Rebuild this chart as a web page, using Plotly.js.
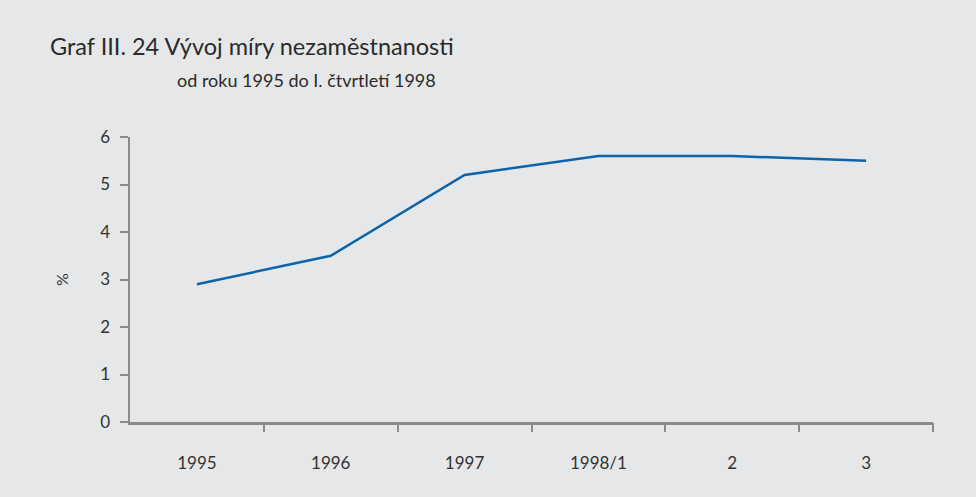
<!DOCTYPE html>
<html>
<head>
<meta charset="utf-8">
<script src="https://cdn.plot.ly/plotly-3.0.1.min.js"></script>
<style>html,body{margin:0;padding:0;background:#e6e7e9;}</style>
</head>
<body>
<div id="chart" style="width:976px;height:497px;"></div>
<script>
const categories = ["1995", "1996", "1997", "1998/1", "2", "3"];
const unemployment = [2.9, 3.5, 5.2, 5.6, 5.6, 5.5];
const yTicks = [0, 1, 2, 3, 4, 5, 6];

const fontFam = "Lato, 'Open Sans', sans-serif";
const axisColor = "#8a8b8d";
const textColor = "#333333";

// boundaries between categories (no tick at the left corner)
const boundaryTicks = categories.map((c, i) => i + 0.5);

const trace = {
  x: categories,
  y: unemployment,
  type: "scatter",
  mode: "lines",
  line: {color: "#0a63ab", width: 2.5},
  hoverinfo: "x+y"
};

const layout = {
  width: 976,
  height: 497,
  paper_bgcolor: "#e6e7e9",
  plot_bgcolor: "#e6e7e9",
  margin: {l: 130, r: 43, t: 137, b: 75},
  showlegend: false,
  font: {family: fontFam, color: textColor, size: 16},
  title: {
    text: "Graf III. 24 Vývoj míry nezaměstnanosti",
    font: {family: fontFam, size: 23.5, color: "#2a2a2a"},
    x: 50 / 976, xref: "container", xanchor: "left",
    y: 1 - 47 / 497, yref: "container", yanchor: "middle"
  },
  annotations: [{
    text: "od roku 1995 do I. čtvrtletí 1998",
    xref: "paper", yref: "paper",
    x: (175 - 130) / 803, y: (422 - 80) / 285,
    xanchor: "left", yanchor: "middle",
    showarrow: false,
    font: {family: fontFam, size: 18, color: "#2a2a2a"}
  }],
  xaxis: {
    type: "category",
    range: [-0.5, 5.5],
    showgrid: false,
    zeroline: false,
    showline: true,
    linecolor: axisColor,
    linewidth: 2.5,
    ticks: "",
    ticklabelstandoff: 24,
    tickfont: {family: fontFam, size: 17, color: textColor},
    fixedrange: true
  },
  xaxis2: {
    overlaying: "x",
    anchor: "y",
    side: "bottom",
    type: "linear",
    range: [-0.5, 5.5],
    tickvals: boundaryTicks,
    ticktext: boundaryTicks.map(() => ""),
    showgrid: false,
    zeroline: false,
    showline: false,
    ticks: "outside",
    ticklen: 9,
    tickwidth: 2,
    tickcolor: axisColor,
    fixedrange: true
  },
  yaxis: {
    range: [0, 6],
    tickvals: yTicks,
    showgrid: false,
    zeroline: false,
    showline: true,
    linecolor: axisColor,
    linewidth: 2.5,
    ticks: "outside",
    ticklen: 8,
    tickwidth: 2,
    tickcolor: axisColor,
    ticklabelstandoff: 6,
    tickfont: {family: fontFam, size: 17, color: textColor},
    title: {text: "%", standoff: 28, font: {family: fontFam, size: 16, color: textColor}},
    automargin: false,
    fixedrange: true
  }
};

// invisible helper trace so the second x axis (boundary ticks) is drawn
const helper = {
  x: [-0.5, 5.5], y: [null, null], xaxis: "x2", yaxis: "y",
  type: "scatter", mode: "lines", hoverinfo: "skip", showlegend: false
};

Plotly.newPlot("chart", [trace, helper], layout, {displayModeBar: false, staticPlot: true});
</script>
</body>
</html>
